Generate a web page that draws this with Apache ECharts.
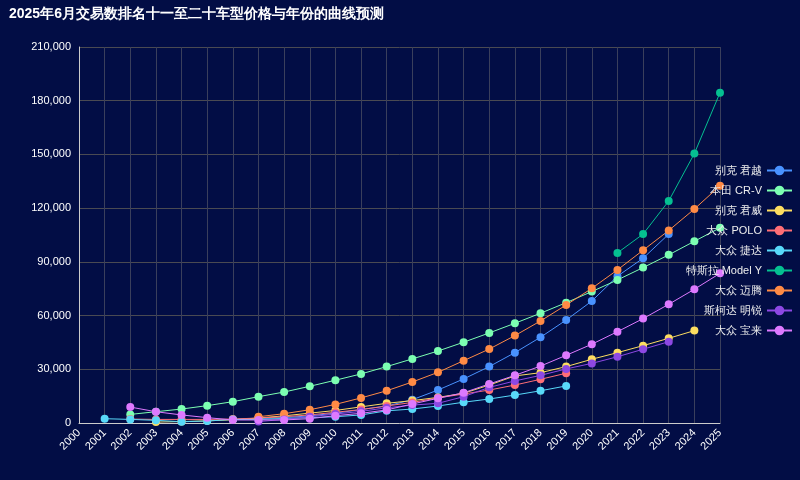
<!DOCTYPE html>
<html><head><meta charset="utf-8">
<script src="https://cdn.jsdelivr.net/npm/echarts@6/dist/echarts.min.js"></script>
<style>html,body{margin:0;background:#020d45}#c{width:800px;height:480px}</style>
</head><body><div id="c"></div>
<script>
var years = [];
for (var y = 2000; y <= 2025; y++) years.push(String(y));

// values indexed by year 2000..2025, null = no data
var junyue   = [null,null,null,null,null,null,2000,2500,3000,4000,5500,7500,9500,13000,18400,24600,31500,39300,47900,57500,68100,82000,92000,105500,null,null];
var crv      = [null,null,4800,6300,7800,9700,11900,14700,17300,20500,23900,27400,31500,35800,40200,45100,50300,55700,61300,67200,73400,79900,86800,93900,101500,109000];
var junwei   = [null,null,null,500,800,1200,1800,2800,4000,5500,7000,9000,11000,12500,14300,16600,21200,26300,28100,31500,35600,39300,43200,47300,51600,null];
var polo     = [null,null,2200,2000,2000,2000,2200,2800,3500,4500,6000,7500,9500,11500,14000,16200,18400,21200,24400,27800,null,null,null,null,null,null];
var jetta    = [null,2400,2000,1500,700,1100,2000,2000,2500,3000,3500,4500,6800,7800,9500,11600,13400,15600,18000,20700,null,null,null,null,null,null];
var modelY   = [null,null,null,null,null,null,null,null,null,null,null,null,null,null,null,null,null,null,null,null,null,95000,105500,124000,150500,184500];
var magotan  = [null,null,null,null,null,null,null,3500,5200,7400,10400,14000,18000,22900,28300,34800,41300,48800,57000,65900,75200,85500,96500,107500,119500,132500];
var octavia  = [null,null,null,null,null,null,null,800,2000,3500,5000,6500,8500,10000,11000,14700,19900,23500,26600,30200,33300,37000,41200,45400,null,null];
var bora     = [null,null,8900,6300,4500,3000,1700,1700,1700,2400,4100,5400,7300,10600,13800,16900,21800,26600,31800,37800,44000,51000,58300,66300,74700,83600];

var names = ['别克 君越','本田 CR-V','别克 君威','大众 POLO','大众 捷达','特斯拉 Model Y','大众 迈腾','斯柯达 明锐','大众 宝来'];
var data = [junyue,crv,junwei,polo,jetta,modelY,magotan,octavia,bora];
var colors = ['#4992ff','#7cffb2','#fddd60','#ff6e76','#58d9f9','#05c091','#ff8a45','#8d48e3','#dd79ff'];

var chart = echarts.init(document.getElementById('c'));
var series = [];
for (var i = 0; i < names.length; i++) {
    series.push({
        name: names[i], type: 'line', data: data[i],
        symbol: 'circle', symbolSize: 8, connectNulls: false,
        lineStyle: {width: 1}, itemStyle: {color: colors[i]}
    });
}
chart.setOption({
    backgroundColor: '#020d45',
    color: colors,
    title: {text: '2025年6月交易数排名十一至二十车型价格与年份的曲线预测', left: 4, top: 2,
        textStyle: {color: '#fff', fontSize: 14, fontWeight: 'bold'}},
    legend: {orient: 'vertical', right: 2, top: 160, align: 'right', itemGap: 9,
        itemWidth: 25, itemHeight: 12,
        textStyle: {color: '#eee', fontSize: 11}},
    grid: {left: 79, right: 80, top: 47, bottom: 57},
    xAxis: {type: 'category', data: years, boundaryGap: false,
        axisLabel: {color: '#fff', rotate: 45, interval: 0, fontSize: 11},
        axisLine: {lineStyle: {color: '#ccc'}},
        axisTick: {show: false},
        splitLine: {show: true, lineStyle: {color: '#3a3f5c'}}},
    yAxis: {type: 'value', min: 0, max: 210000, interval: 30000,
        axisLabel: {color: '#fff', fontSize: 11,
            formatter: function (v) { return v.toLocaleString('en-US'); }},
        axisLine: {show: true, lineStyle: {color: '#ccc'}},
        splitLine: {lineStyle: {color: '#4a4a52'}}},
    series: series
});
</script></body></html>
